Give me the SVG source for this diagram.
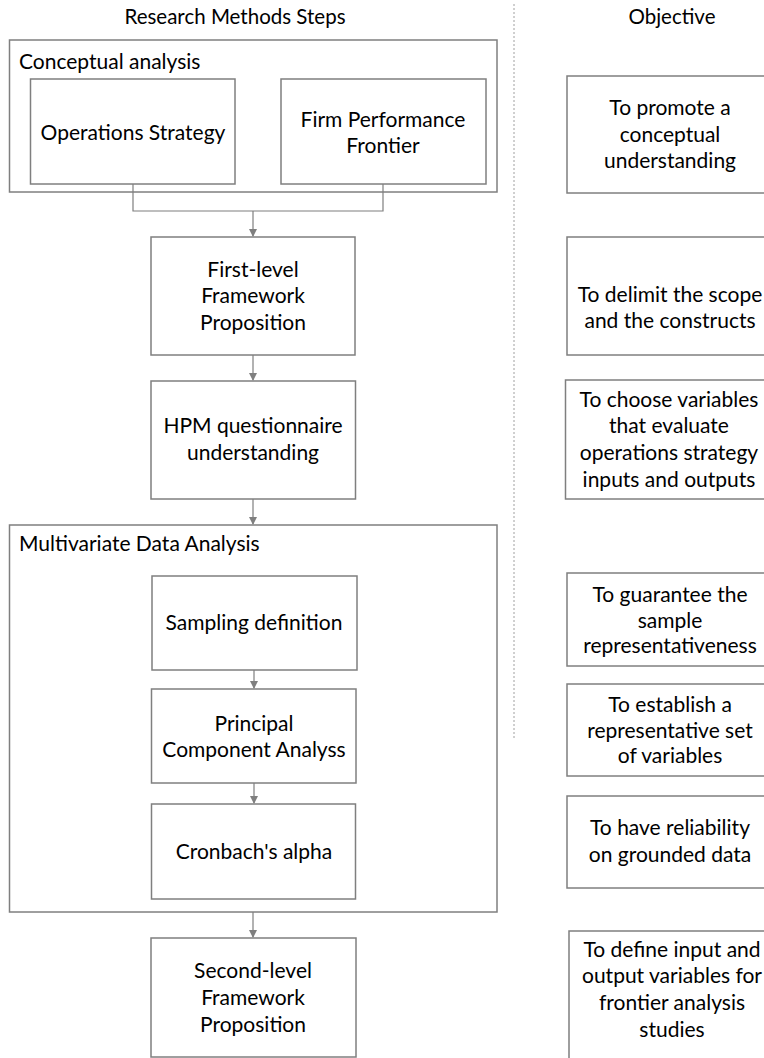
<svg xmlns="http://www.w3.org/2000/svg" width="764" height="1058" viewBox="0 0 764 1058">
<defs>
<marker id="arr" markerWidth="8" markerHeight="8" refX="7" refY="4" orient="auto" markerUnits="userSpaceOnUse">
<path d="M0,0 L8,4 L0,8 Z" fill="#7f7f7f"/>
</marker>
</defs>
<style>
.box{fill:#fff;stroke:#7f7f7f;stroke-width:1.5}
.grp{fill:none;stroke:#7f7f7f;stroke-width:1.5}
.t{font-family:Lato,"Liberation Sans",sans-serif;font-size:21px;fill:#000;text-anchor:middle}
.h{font-family:Lato,"Liberation Sans",sans-serif;font-size:20.5px;fill:#000;text-anchor:middle}
.l{font-family:Lato,"Liberation Sans",sans-serif;font-size:21px;fill:#000}
.c{fill:none;stroke:#7f7f7f;stroke-width:1.2}
</style>
<rect width="764" height="1058" fill="#fff"/>
<line x1="514" y1="4" x2="514" y2="738" stroke="#a0a0a0" stroke-width="1" stroke-dasharray="2,2"/>
<text class="h" x="235" y="24">Research Methods Steps</text>
<text class="h" x="672" y="24">Objective</text>

<g id="conceptual">
<rect class="grp" x="9.5" y="40" width="487.5" height="152"/>
<text class="l" x="19" y="69">Conceptual analysis</text>
</g>
<g id="ops">
<rect class="box" x="30.5" y="79" width="204.5" height="105"/>
<text class="t" x="133" y="140">Operations Strategy</text>
</g>
<g id="firm">
<rect class="box" x="281" y="79" width="205" height="105"/>
<text class="t" x="383" y="127">Firm Performance</text>
<text class="t" x="383" y="153">Frontier</text>
</g>
<g id="first">
<rect class="box" x="151" y="237" width="204" height="118"/>
<text class="t" x="253" y="277">First-level</text>
<text class="t" x="253" y="303">Framework</text>
<text class="t" x="253" y="330">Proposition</text>
</g>
<g id="hpm">
<rect class="box" x="151" y="381" width="204.5" height="118"/>
<text class="t" x="253" y="433">HPM questionnaire</text>
<text class="t" x="253" y="460">understanding</text>
</g>
<g id="multivariate">
<rect class="grp" x="9.5" y="525" width="487.5" height="387"/>
<text class="l" x="19" y="551">Multivariate Data Analysis</text>
</g>
<g id="sampling">
<rect class="box" x="152" y="576" width="205" height="94"/>
<text class="t" x="254" y="630">Sampling definition</text>
</g>
<g id="pca">
<rect class="box" x="151.5" y="689" width="204.5" height="94"/>
<text class="t" x="254" y="731">Principal</text>
<text class="t" x="254" y="757">Component Analyss</text>
</g>
<g id="cronbach">
<rect class="box" x="151.5" y="804" width="204" height="95"/>
<text class="t" x="254" y="859">Cronbach's alpha</text>
</g>
<g id="second">
<rect class="box" x="151" y="938" width="205" height="119"/>
<text class="t" x="253" y="978">Second-level</text>
<text class="t" x="253" y="1005">Framework</text>
<text class="t" x="253" y="1032">Proposition</text>
</g>

<g id="obj1">
<rect class="box" x="567" y="76" width="206" height="117"/>
<text class="t" x="670" y="115">To promote a</text>
<text class="t" x="670" y="142">conceptual</text>
<text class="t" x="670" y="168">understanding</text>
</g>
<g id="obj2">
<rect class="box" x="567" y="237" width="206" height="118"/>
<text class="t" x="670" y="302">To delimit the scope</text>
<text class="t" x="670" y="328">and the constructs</text>
</g>
<g id="obj3">
<rect class="box" x="565.5" y="380" width="207" height="119"/>
<text class="t" x="669" y="407">To choose variables</text>
<text class="t" x="669" y="433">that evaluate</text>
<text class="t" x="669" y="460">operations strategy</text>
<text class="t" x="669" y="487">inputs and outputs</text>
</g>
<g id="obj4">
<rect class="box" x="567" y="573" width="206" height="93"/>
<text class="t" x="670" y="602">To guarantee the</text>
<text class="t" x="670" y="628">sample</text>
<text class="t" x="670" y="653">representativeness</text>
</g>
<g id="obj5">
<rect class="box" x="567" y="684" width="206" height="92"/>
<text class="t" x="670" y="712">To establish a</text>
<text class="t" x="670" y="738">representative set</text>
<text class="t" x="670" y="763">of variables</text>
</g>
<g id="obj6">
<rect class="box" x="567" y="796" width="206" height="92"/>
<text class="t" x="670" y="835">To have reliability</text>
<text class="t" x="670" y="862">on grounded data</text>
</g>
<g id="obj7">
<rect class="box" x="569" y="931" width="206" height="140"/>
<text class="t" x="672" y="957">To define input and</text>
<text class="t" x="672" y="983">output variables for</text>
<text class="t" x="672" y="1010">frontier analysis</text>
<text class="t" x="672" y="1037">studies</text>
</g>

<g id="connectors">
<polyline class="c" points="133,184 133,211 383,211 383,184"/>
<line class="c" x1="253" y1="211" x2="253" y2="236" marker-end="url(#arr)"/>
<line class="c" x1="253" y1="355" x2="253" y2="380" marker-end="url(#arr)"/>
<line class="c" x1="253" y1="499" x2="253" y2="524" marker-end="url(#arr)"/>
<line class="c" x1="254" y1="670" x2="254" y2="688" marker-end="url(#arr)"/>
<line class="c" x1="254" y1="783" x2="254" y2="803" marker-end="url(#arr)"/>
<line class="c" x1="253" y1="912" x2="253" y2="937" marker-end="url(#arr)"/>
</g>
</svg>
